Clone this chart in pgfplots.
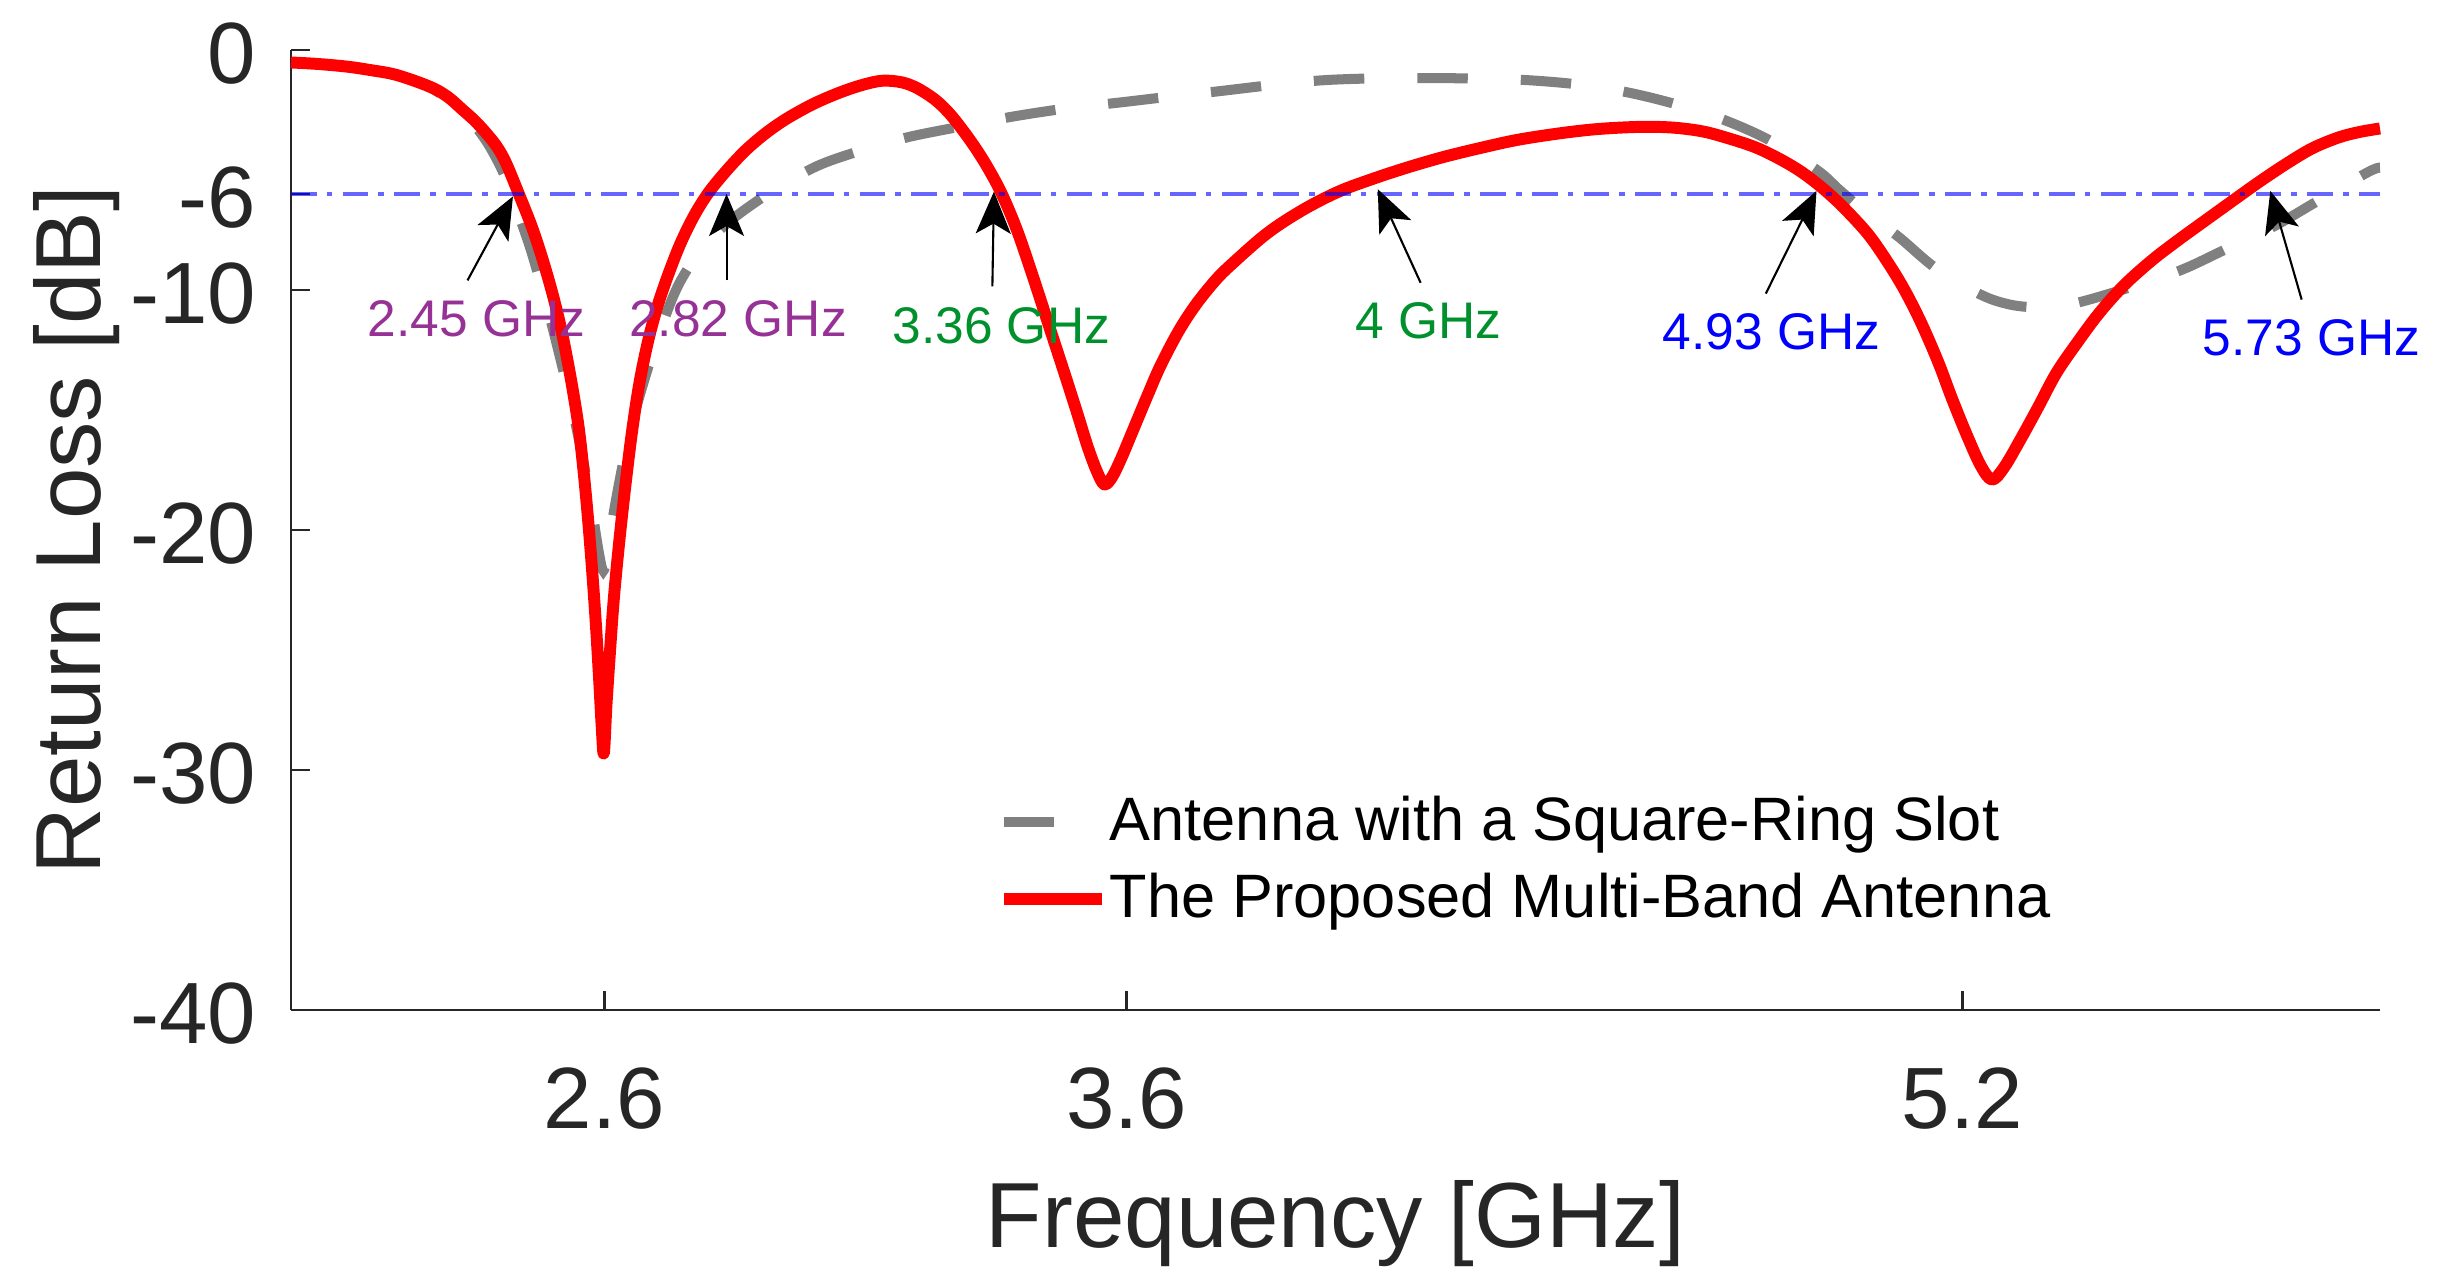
\documentclass[border=0pt]{standalone}
\usepackage{fontspec}
\setmainfont{Liberation Sans}
\usepackage{pgfplots}
\pgfplotsset{compat=1.18}
\usetikzlibrary{arrows.meta}
\definecolor{lgray}{RGB}{128,128,128}
\definecolor{mpurple}{RGB}{150,50,150}
\definecolor{mgreen}{RGB}{0,145,45}
\definecolor{axgray}{RGB}{38,38,38}
\begin{document}
\begin{tikzpicture}
\useasboundingbox (-2.91,-2.78) rectangle (21.48,10.10);
\begin{axis}[
  at={(0,0)}, anchor=south west,
  scale only axis, width=20.89cm, height=9.60cm,
  xmin=2, xmax=6, ymin=-40, ymax=0,
  axis x line=bottom, axis y line=left,
  axis line style={-, line width=0.85pt, color=axgray},
  xtick={2.6,3.6,5.2}, xticklabels={2.6,3.6,5.2},
  ytick={-40,-30,-20,-10,-6,0}, yticklabels={-40,-30,-20,-10,-6,0},
  major tick length=0.19cm,
  tick style={line width=0.8pt, color=axgray},
  tick align=inside,
  xticklabel style={anchor=base, inner sep=0pt, yshift=-1.186cm, font=\fontsize{0.87cm}{1cm}\selectfont, text=axgray},
  yticklabel style={anchor=east, inner sep=0pt, xshift=-0.34cm, yshift=-0.04cm, font=\fontsize{0.87cm}{1cm}\selectfont, text=axgray},
  xlabel={Frequency [GHz]}, ylabel={Return Loss [dB]},
  xlabel style={at={(axis description cs:0.5,-0.2476)}, anchor=base, inner sep=0pt, font=\fontsize{0.925cm}{1.1cm}\selectfont, text=axgray},
  ylabel style={at={(axis description cs:-0.0914,0.5)}, anchor=base, inner sep=0pt, font=\fontsize{0.925cm}{1.1cm}\selectfont, text=axgray},
  clip=false,
  legend cell align=left,
  legend style={at={(axis description cs:0.3384,0.2225)}, anchor=north west, draw=none, fill=none, inner sep=0pt, outer sep=0pt, row sep=0.25cm, column sep=0.02cm, font=\fontsize{0.613cm}{0.7cm}\selectfont, nodes={inner sep=0pt, text depth=0.2em}},
  legend image code/.code={\draw[#1] (0cm,0cm) -- (0.98cm,0cm);},
]
\addplot[color=lgray, line width=2.85pt, dash pattern=on 0.505cm off 0.53cm, smooth, tension=0.55] coordinates {
(2.000,-0.52) (2.106,-0.69) (2.202,-1.04) (2.266,-1.55) (2.320,-2.4) (2.350,-3.1)
(2.374,-3.8) (2.395,-4.6) (2.412,-5.4) (2.435,-6.8) (2.463,-8.6) (2.500,-11.5)
(2.537,-14.8) (2.561,-17.3) (2.578,-19.4) (2.590,-21.0) (2.598,-21.7) (2.606,-21.0)
(2.617,-19.4) (2.635,-17.3) (2.655,-15.4) (2.680,-13.5) (2.710,-11.5) (2.744,-9.7)
(2.790,-8.2) (2.842,-7.1) (2.920,-5.9) (3.006,-4.85) (3.090,-4.2) (3.180,-3.64)
(3.280,-3.2) (3.378,-2.79) (3.480,-2.45) (3.586,-2.19) (3.680,-1.95) (3.776,-1.72)
(3.870,-1.48) (3.970,-1.27) (4.060,-1.19) (4.160,-1.17) (4.270,-1.19) (4.370,-1.26)
(4.470,-1.45) (4.560,-1.77) (4.650,-2.25) (4.740,-2.88) (4.830,-3.75) (4.922,-5.0)
(4.966,-5.85) (5.020,-6.85) (5.079,-7.8) (5.150,-9.1) (5.236,-10.2) (5.290,-10.6)
(5.337,-10.72) (5.380,-10.68) (5.428,-10.49) (5.520,-9.9) (5.619,-9.17) (5.700,-8.35)
(5.796,-7.36) (5.880,-6.3) (5.976,-5.1) (6.000,-4.9)
};
\addlegendentry{Antenna with a Square-Ring Slot}
\addplot[color=red, line width=3.4pt, line join=round, smooth, tension=0.55] coordinates {
(2.000,-0.52) (2.050,-0.58) (2.106,-0.69) (2.150,-0.83) (2.202,-1.04) (2.266,-1.53)
(2.300,-1.95) (2.329,-2.50) (2.352,-2.95) (2.374,-3.47) (2.395,-4.05) (2.412,-4.72)
(2.435,-5.93) (2.460,-7.3) (2.480,-8.6) (2.500,-10.1) (2.518,-11.7) (2.535,-13.6)
(2.550,-15.6) (2.560,-17.5) (2.569,-19.6) (2.577,-21.8) (2.584,-24.0) (2.590,-26.2)
(2.595,-28.2) (2.599,-29.3) (2.604,-27.3) (2.611,-25.0) (2.618,-22.9) (2.628,-20.6)
(2.640,-18.2) (2.653,-15.9) (2.667,-13.9) (2.683,-12.2) (2.700,-10.8) (2.720,-9.5)
(2.745,-8.1) (2.772,-6.9) (2.800,-5.93) (2.835,-5.0) (2.871,-4.17) (2.910,-3.45)
(2.950,-2.85) (3.000,-2.25) (3.050,-1.78) (3.095,-1.45) (3.133,-1.28) (3.170,-1.35)
(3.200,-1.6) (3.235,-2.1) (3.265,-2.75) (3.300,-3.75) (3.330,-4.75) (3.360,-5.95)
(3.390,-7.5) (3.420,-9.4) (3.450,-11.4) (3.480,-13.4) (3.505,-15.1) (3.525,-16.5)
(3.542,-17.5) (3.557,-18.1) (3.572,-17.8) (3.590,-17.0) (3.615,-15.7) (3.640,-14.4)
(3.665,-13.15) (3.700,-11.7) (3.733,-10.6) (3.770,-9.6) (3.800,-8.95) (3.869,-7.64)
(3.937,-6.67) (4.006,-5.9) (4.074,-5.35) (4.140,-4.88) (4.210,-4.44) (4.280,-4.07)
(4.347,-3.75) (4.420,-3.5) (4.484,-3.33) (4.540,-3.24) (4.598,-3.2) (4.650,-3.24)
(4.700,-3.38) (4.740,-3.6) (4.800,-4.02) (4.847,-4.5) (4.890,-5.05) (4.929,-5.69)
(4.970,-6.5) (5.017,-7.6) (5.050,-8.6) (5.086,-9.86) (5.120,-11.3) (5.154,-13.0)
(5.180,-14.5) (5.208,-16.0) (5.235,-17.3) (5.257,-17.9) (5.280,-17.4) (5.311,-16.25)
(5.345,-14.9) (5.380,-13.47) (5.420,-12.2) (5.462,-10.97) (5.510,-9.8) (5.564,-8.75)
(5.615,-7.9) (5.667,-7.08) (5.720,-6.25) (5.769,-5.49) (5.820,-4.75) (5.870,-4.1)
(5.920,-3.65) (5.960,-3.42) (6.000,-3.27)
};
\addlegendentry{The Proposed Multi-Band Antenna}
\addplot[color=blue, opacity=0.6, line width=0.95pt, dash pattern=on 0.257cm off 0.1cm on 0.057cm off 0.103cm, forget plot] coordinates {(2,-6) (6,-6)};
% arrows
\draw[-{Stealth[length=0.42cm,width=0.35cm,inset=0.1cm]}, line width=0.6pt] (axis cs:2.338,-9.6) -- (axis cs:2.425,-6.1);
\draw[-{Stealth[length=0.42cm,width=0.35cm,inset=0.1cm]}, line width=0.6pt] (axis cs:2.834,-9.6) -- (axis cs:2.834,-6.0);
\draw[-{Stealth[length=0.42cm,width=0.35cm,inset=0.1cm]}, line width=0.6pt] (axis cs:3.343,-9.85) -- (axis cs:3.346,-5.9);
\draw[-{Stealth[length=0.42cm,width=0.35cm,inset=0.1cm]}, line width=0.6pt] (axis cs:4.163,-9.7) -- (axis cs:4.081,-5.8);
\draw[-{Stealth[length=0.42cm,width=0.35cm,inset=0.1cm]}, line width=0.6pt] (axis cs:4.824,-10.15) -- (axis cs:4.921,-5.87);
\draw[-{Stealth[length=0.42cm,width=0.35cm,inset=0.1cm]}, line width=0.6pt] (axis cs:5.85,-10.4) -- (axis cs:5.79,-5.87);
% labels
\node[anchor=base, inner sep=0pt, text=mpurple, font=\fontsize{0.515cm}{0.6cm}\selectfont] at (axis cs:2.355,-11.95) {2.45 GHz};
\node[anchor=base, inner sep=0pt, text=mpurple, font=\fontsize{0.515cm}{0.6cm}\selectfont] at (axis cs:2.856,-11.92) {2.82 GHz};
\node[anchor=base, inner sep=0pt, text=mgreen, font=\fontsize{0.515cm}{0.6cm}\selectfont] at (axis cs:3.360,-12.22) {3.36 GHz};
\node[anchor=base, inner sep=0pt, text=mgreen, font=\fontsize{0.515cm}{0.6cm}\selectfont] at (axis cs:4.178,-12.04) {4 GHz};
\node[anchor=base, inner sep=0pt, text=blue, font=\fontsize{0.515cm}{0.6cm}\selectfont] at (axis cs:4.835,-12.46) {4.93 GHz};
\node[anchor=base, inner sep=0pt, text=blue, font=\fontsize{0.515cm}{0.6cm}\selectfont] at (axis cs:5.869,-12.72) {5.73 GHz};
\end{axis}
\end{tikzpicture}
\end{document}
